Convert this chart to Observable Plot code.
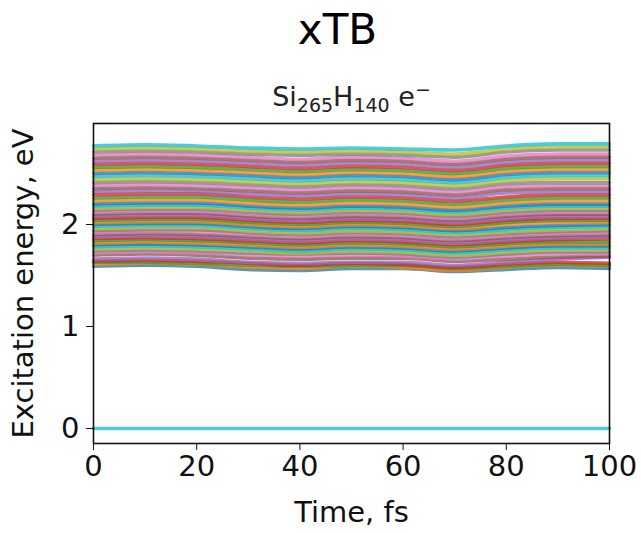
<!DOCTYPE html>
<html>
<head>
<meta charset="utf-8">
<script src="https://cdn.jsdelivr.net/npm/d3@7"></script>
<script src="https://cdn.jsdelivr.net/npm/@observablehq/plot@0.6"></script>
<style>
  html, body { margin: 0; padding: 0; background: #fff; }
  #wrap { width: 641px; font-family: "DejaVu Sans", sans-serif; color: #000; }
  #head { position: relative; height: 105px; }
  #title { position: absolute; left: 17px; width: 641px; top: 9px; text-align: center; font-size: 42px; line-height: 42px; }
  #sub { position: absolute; left: 31px; width: 641px; top: 83px; text-align: center; font-size: 27px; line-height: 27px; color: #222; }
  #sub .s { font-size: 19px; position: relative; top: 6px; }
  #sub .p { font-size: 19px; position: relative; top: -10px; }
  svg { display: block; }
</style>
</head>
<body>
<div id="wrap">
  <div id="head">
    <div id="title">xTB</div>
    <div id="sub">Si<span class="s">265</span>H<span class="s">140</span> e<span class="p">−</span></div>
  </div>
  <div id="chart"></div>
</div>
<script>
// Time samples (fs)
const times = [0, 10, 20, 30, 40, 50, 60, 70, 80, 90, 100];
const xTicks = [0, 20, 40, 60, 80, 100];
const yTicks = [0, 1, 2];
const palette = ["#1f77b4","#ff7f0e","#2ca02c","#d62728","#9467bd","#8c564b","#e377c2","#7f7f7f","#bcbd22","#17becf"];

// Ground state (reference, 0 eV)
const groundState = [0,0,0,0,0,0,0,0,0,0,0];

// Excited-state energies (eV), lowest to highest, one row per state, sampled at `times`
const excitedStates = [
  [1.59,1.60,1.59,1.56,1.55,1.57,1.57,1.54,1.56,1.58,1.57],
  [1.61,1.62,1.61,1.58,1.57,1.59,1.58,1.55,1.58,1.60,1.59],
  [1.63,1.63,1.62,1.60,1.59,1.60,1.60,1.57,1.59,1.61,1.60],
  [1.64,1.65,1.64,1.62,1.60,1.62,1.61,1.58,1.61,1.63,1.62],
  [1.66,1.67,1.66,1.63,1.62,1.63,1.63,1.60,1.63,1.66,1.68],
  [1.70,1.71,1.70,1.67,1.66,1.67,1.67,1.64,1.66,1.68,1.69],
  [1.72,1.73,1.72,1.70,1.69,1.70,1.69,1.66,1.69,1.71,1.71],
  [1.74,1.75,1.74,1.72,1.71,1.72,1.71,1.68,1.71,1.73,1.73],
  [1.76,1.77,1.76,1.74,1.72,1.74,1.73,1.70,1.73,1.75,1.75],
  [1.78,1.79,1.78,1.76,1.74,1.76,1.75,1.72,1.75,1.77,1.77],
  [1.80,1.81,1.80,1.78,1.76,1.78,1.77,1.74,1.77,1.79,1.79],
  [1.82,1.83,1.82,1.80,1.78,1.80,1.79,1.76,1.79,1.81,1.81],
  [1.84,1.85,1.84,1.82,1.80,1.82,1.81,1.78,1.81,1.83,1.83],
  [1.86,1.87,1.86,1.84,1.82,1.84,1.83,1.80,1.83,1.85,1.86],
  [1.88,1.89,1.88,1.86,1.84,1.86,1.85,1.82,1.85,1.87,1.88],
  [1.90,1.91,1.90,1.88,1.86,1.88,1.87,1.84,1.87,1.89,1.90],
  [1.92,1.93,1.93,1.90,1.88,1.90,1.89,1.86,1.89,1.91,1.92],
  [1.94,1.95,1.95,1.92,1.90,1.92,1.91,1.88,1.91,1.93,1.94],
  [1.96,1.97,1.97,1.94,1.92,1.94,1.93,1.90,1.93,1.95,1.96],
  [1.98,1.99,1.99,1.96,1.94,1.96,1.95,1.92,1.95,1.97,1.98],
  [2.00,2.01,2.01,1.98,1.96,1.98,1.97,1.94,1.97,1.99,2.00],
  [2.02,2.03,2.03,2.00,1.98,2.00,1.99,1.96,2.00,2.02,2.02],
  [2.04,2.05,2.05,2.02,2.00,2.02,2.01,1.98,2.02,2.04,2.04],
  [2.06,2.07,2.07,2.04,2.02,2.04,2.03,2.00,2.04,2.06,2.06],
  [2.08,2.09,2.09,2.06,2.04,2.06,2.05,2.02,2.06,2.08,2.08],
  [2.10,2.11,2.11,2.08,2.06,2.08,2.07,2.04,2.08,2.10,2.10],
  [2.12,2.13,2.13,2.10,2.08,2.10,2.09,2.06,2.10,2.12,2.12],
  [2.14,2.15,2.15,2.12,2.10,2.12,2.11,2.08,2.12,2.14,2.14],
  [2.16,2.17,2.17,2.14,2.12,2.14,2.13,2.10,2.14,2.16,2.16],
  [2.18,2.19,2.19,2.16,2.14,2.16,2.15,2.12,2.16,2.18,2.18],
  [2.20,2.21,2.21,2.18,2.16,2.18,2.17,2.14,2.18,2.20,2.20],
  [2.23,2.24,2.24,2.21,2.19,2.21,2.20,2.17,2.21,2.23,2.23],
  [2.26,2.27,2.27,2.24,2.22,2.24,2.23,2.20,2.24,2.26,2.26],
  [2.29,2.30,2.30,2.27,2.25,2.27,2.26,2.23,2.27,2.29,2.29],
  [2.32,2.33,2.32,2.30,2.28,2.30,2.29,2.26,2.31,2.32,2.32],
  [2.35,2.36,2.35,2.33,2.31,2.33,2.32,2.29,2.34,2.35,2.35],
  [2.38,2.39,2.38,2.36,2.34,2.36,2.35,2.32,2.37,2.38,2.38],
  [2.41,2.42,2.41,2.39,2.37,2.39,2.38,2.35,2.40,2.41,2.41],
  [2.44,2.45,2.44,2.42,2.40,2.42,2.41,2.38,2.43,2.45,2.45],
  [2.47,2.48,2.47,2.45,2.43,2.45,2.44,2.41,2.46,2.48,2.48],
  [2.50,2.51,2.50,2.48,2.46,2.48,2.47,2.44,2.49,2.51,2.51],
  [2.53,2.54,2.53,2.51,2.49,2.51,2.50,2.47,2.52,2.54,2.54],
  [2.56,2.57,2.56,2.54,2.52,2.54,2.53,2.50,2.55,2.57,2.57],
  [2.59,2.60,2.59,2.57,2.55,2.57,2.56,2.53,2.58,2.60,2.60],
  [2.62,2.63,2.62,2.60,2.58,2.60,2.59,2.56,2.61,2.63,2.63],
  [2.65,2.66,2.65,2.63,2.61,2.63,2.62,2.59,2.64,2.66,2.66],
  [2.68,2.69,2.68,2.66,2.64,2.66,2.65,2.62,2.67,2.69,2.69],
  [2.71,2.72,2.71,2.69,2.68,2.69,2.68,2.66,2.71,2.73,2.73],
  [2.74,2.75,2.74,2.72,2.71,2.72,2.71,2.69,2.74,2.76,2.76],
  [2.77,2.78,2.77,2.75,2.74,2.75,2.74,2.73,2.77,2.79,2.79]
];

const states = [groundState, ...excitedStates];
const rows = [];
states.forEach((vals, s) => {
  vals.forEach((e, k) => rows.push({state: s, t: times[k], e}));
});

const chart = Plot.plot({
  width: 641,
  height: 428,
  marginTop: 18,
  marginBottom: 90,
  marginLeft: 93,
  marginRight: 32,
  style: { fontFamily: "DejaVu Sans, sans-serif", fontSize: "29px", color: "#111", background: "#fff" },
  x: { domain: [0, 100] },
  y: { domain: [-0.147, 2.99] },
  color: { type: "ordinal", domain: d3.range(states.length), range: d3.range(states.length).map(i => palette[(i + 9) % 10]) },
  marks: [
    Plot.line(rows, { x: "t", y: "e", z: "state", stroke: "state", strokeWidth: 3.6, strokeOpacity: 0.78, curve: "monotone-x" }),
    Plot.frame({ stroke: "#111", strokeWidth: 1.6 }),
    Plot.axisX({ ticks: xTicks, tickSize: 7, tickPadding: 5, tickFormat: d3.format("d"), label: "Time, fs", labelAnchor: "center", labelArrow: "none", labelOffset: 78 }),
    Plot.axisY({ ticks: yTicks, tickSize: 7, tickPadding: 7, tickFormat: d3.format("d"), label: "Excitation energy, eV", labelAnchor: "center", labelArrow: "none", labelOffset: 81 })
  ]
});
document.getElementById("chart").appendChild(chart);
</script>
</body>
</html>
